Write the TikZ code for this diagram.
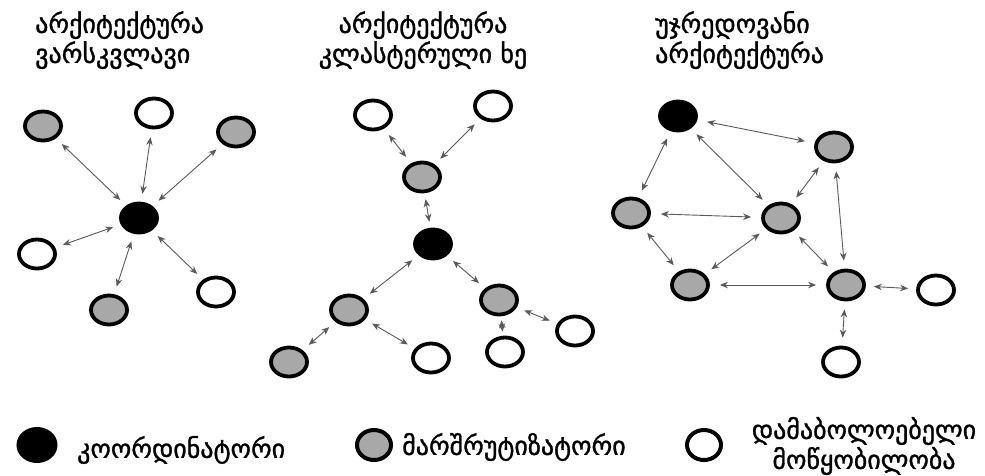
\documentclass[tikz,border=0pt]{standalone}
\usepackage{fontspec}
\newfontfamily\geo[FakeBold=1.2]{DejaVu Sans}
\usetikzlibrary{arrows.meta,shapes.geometric}
\definecolor{rgray}{RGB}{168,168,168}
\definecolor{lnkc}{RGB}{90,90,90}
\tikzset{
  nd/.style={ellipse, draw=black, line width=3.8pt, minimum width=36pt, minimum height=29pt, inner sep=0pt},
  crd/.style={nd, fill=black},
  rtr/.style={nd, fill=rgray},
  edv/.style={nd, fill=white},
  lgd/.style={ellipse, draw=black, line width=4pt, minimum width=34pt, minimum height=30pt, inner sep=0pt},
  lnk/.style={{Stealth[length=8pt,width=6.5pt]}-{Stealth[length=8pt,width=6.5pt]}, draw=lnkc, line width=0.9pt, shorten >=8pt, shorten <=8pt},
  ttl/.style={font=\geo\fontsize{26}{30}\selectfont, inner sep=0pt},
}
\begin{document}
\begin{tikzpicture}[x=1pt,y=-1pt]
\useasboundingbox[fill=white] (0,0) rectangle (985,475);
% titles
\node[ttl, align=left, anchor=north west] (T1) at (35,11) {არქიტექტურა\\ვარსკვლავი};
\node[ttl, align=center, anchor=north] (T2) at (423,11) {არქიტექტურა\\კლასტერული ხე};
\node[ttl, align=left, anchor=north west] (T3) at (655,11) {უჯრედოვანი\\არქიტექტურა};
% star
\node[crd] (s0) at (139,218) {};
\node[rtr] (s1) at (43,126) {};
\node[edv] (s2) at (154,113) {};
\node[rtr] (s3) at (236,132) {};
\node[edv] (s4) at (37,254) {};
\node[rtr] (s5) at (109,310) {};
\node[edv] (s6) at (216,292) {};
\foreach \n in {s1,s2,s3,s4,s5,s6} \draw[lnk] (s0) -- (\n);
% tree
\node[crd] (t0) at (433,244) {};
\node[rtr] (t1) at (422,177) {};
\node[edv] (t2) at (373,115) {};
\node[edv] (t3) at (493,106) {};
\node[rtr] (t4) at (349,310) {};
\node[rtr] (t5) at (499,300) {};
\node[rtr] (t6) at (289,362) {};
\node[edv] (t7) at (431,358) {};
\node[edv] (t8) at (505,352) {};
\node[edv] (t9) at (575,331) {};
\draw[lnk] (t1) -- (t2);
\draw[lnk] (t1) -- (t3);
\draw[lnk, shorten >=6pt, shorten <=6pt] (t0) -- (t1);
\draw[lnk] (t0) -- (t4);
\draw[lnk] (t0) -- (t5);
\draw[lnk] (t4) -- (t6);
\draw[lnk] (t4) -- (t7);
\draw[lnk] (t5) -- (t9);
\draw[lnk, shorten >=4pt, shorten <=4pt] (t5) -- (t8);
% mesh
\node[crd] (m0) at (678,116) {};
\node[rtr] (m1) at (834,147) {};
\node[rtr] (m2) at (631,213) {};
\node[rtr] (m3) at (781,218) {};
\node[rtr] (m4) at (690,285) {};
\node[rtr] (m5) at (846,285) {};
\node[edv] (m6) at (936,290) {};
\node[edv] (m7) at (841,362) {};
\draw[lnk, shorten >=10pt, shorten <=10pt] (m0) -- (m1);
\draw[lnk] (m0) -- (m2);
\draw[lnk] (m0) -- (m3);
\draw[lnk] (m1) -- (m3);
\draw[lnk] (m1) -- (m5);
\draw[lnk, shorten >=10pt, shorten <=10pt] (m2) -- (m3);
\draw[lnk] (m2) -- (m4);
\draw[lnk] (m4) -- (m3);
\draw[lnk] (m3) -- (m5);
\draw[lnk, shorten >=10pt, shorten <=10pt] (m4) -- (m5);
\draw[lnk] (m5) -- (m6);
\draw[lnk] (m5) -- (m7);
% legend
\node[lgd, fill=black, minimum width=37pt, minimum height=32pt] (l1) at (37,445) {};
\node[ttl, anchor=west] (lt1) at (77,450) {კოორდინატორი};
\node[lgd, fill=rgray] (l2) at (374,445) {};
\node[ttl, anchor=west] (lt2) at (402,447) {მარშრუტიზატორი};
\node[lgd, fill=white] (l3) at (704,445) {};
\node[ttl, align=center] (lt3) at (864,446) {დამაბოლოებელი\\მოწყობილობა};
\end{tikzpicture}
\end{document}
